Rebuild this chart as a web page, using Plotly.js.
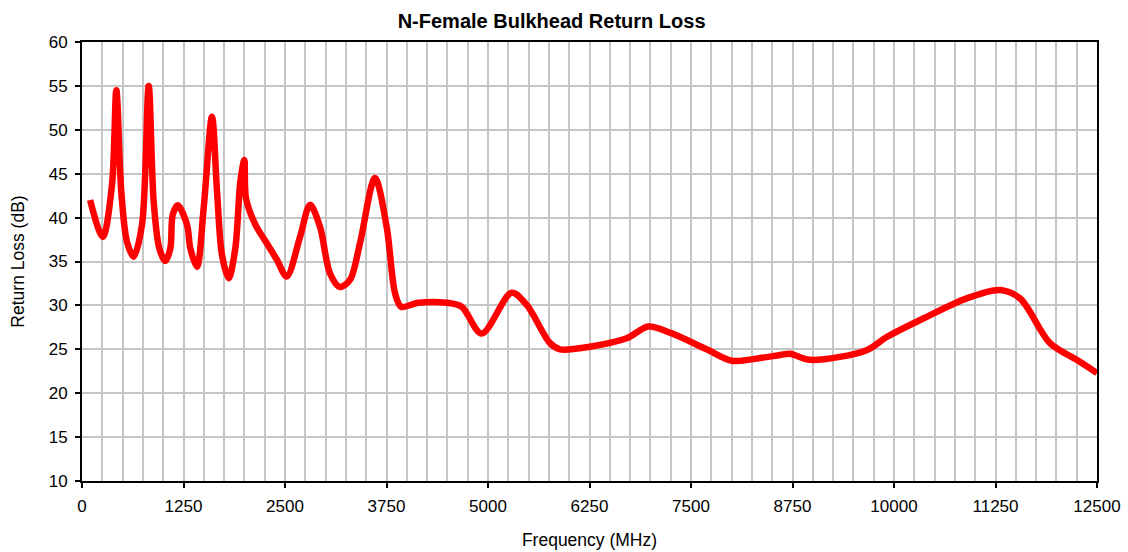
<!DOCTYPE html>
<html>
<head>
<meta charset="utf-8">
<script src="https://cdn.plot.ly/plotly-3.0.1.min.js"></script>
<style>html,body{margin:0;padding:0;background:#fff;}#chart{width:1128px;height:552px;}</style>
</head>
<body>
<div id="chart"></div>
<script>
const frequencyMHz = [100, 255, 369, 423, 484, 554, 636, 739, 821, 883, 952, 1026, 1088, 1117, 1178, 1293, 1334, 1416, 1498, 1601, 1663, 1724, 1806, 1888, 1950, 1999, 2020, 2135, 2274, 2400, 2521, 2685, 2808, 2931, 3054, 3177, 3300, 3424, 3608, 3752, 3855, 3930, 4142, 4491, 4676, 4922, 5292, 5477, 5764, 5887, 6256, 6707, 6974, 7241, 7693, 8001, 8350, 8596, 8719, 8966, 9663, 9910, 10403, 10895, 11305, 11552, 11921, 12250, 12500];
const returnLossDb = [42.0, 37.8, 43.7, 54.5, 42.95, 37.25, 35.55, 39.2, 55.0, 41.8, 36.5, 35.05, 36.5, 40.3, 41.4, 39.2, 36.5, 34.4, 41.05, 51.5, 42.95, 35.75, 33.1, 36.5, 44.1, 46.55, 42.2, 39.2, 37.1, 35.2, 33.3, 37.8, 41.45, 38.95, 33.65, 32.1, 32.9, 37.1, 44.5, 38.95, 31.4, 29.85, 30.3, 30.3, 29.85, 26.8, 31.45, 30.05, 25.7, 25.0, 25.3, 26.25, 27.6, 26.9, 25.0, 23.7, 24.0, 24.35, 24.5, 23.8, 24.9, 26.4, 28.7, 30.8, 31.75, 30.8, 25.7, 23.8, 22.3];
const titleText = "N-Female Bulkhead Return Loss";
const xTitle = "Frequency (MHz)";
const yTitle = "Return Loss (dB)";

const font = "Liberation Sans, Arial, sans-serif";
const grid = "#c6c6c6";
const trace = {
  x: frequencyMHz, y: returnLossDb, type: "scatter", mode: "lines",
  line: {color: "#ff0000", width: 6.5, shape: "spline", smoothing: 0.9},
  hoverinfo: "skip"
};
const layout = {
  width: 1128, height: 552,
  margin: {l: 82, r: 31, t: 42, b: 71},
  paper_bgcolor: "#fff", plot_bgcolor: "#fff",
  showlegend: false,
  font: {family: font, color: "#000", size: 17},
  title: {text: "<b>" + titleText + "</b>", font: {family: font, size: 20, color: "#000"},
          x: 0.489, xref: "container", xanchor: "center", y: 1 - 21 / 552, yref: "container", yanchor: "middle"},
  xaxis: {
    range: [0, 12500], tickmode: "linear", tick0: 0, dtick: 1250, tickformat: "d",
    ticks: "outside", ticklen: 5, tickwidth: 2, tickcolor: "#000", ticklabelstandoff: 4,
    showline: true, linecolor: "#000", linewidth: 2, mirror: true,
    showgrid: true, gridcolor: grid, gridwidth: 2,
    minor: {tickmode: "linear", tick0: 0, dtick: 250, showgrid: true, gridcolor: grid, gridwidth: 2, ticks: ""},
    zeroline: false, tickfont: {size: 17},
    title: {text: xTitle, font: {size: 17.5}, standoff: 18}
  },
  yaxis: {
    range: [10, 60], tickmode: "linear", tick0: 10, dtick: 5,
    ticks: "outside", ticklen: 5, tickwidth: 2, tickcolor: "#000", ticklabelstandoff: 4,
    showline: true, linecolor: "#000", linewidth: 2, mirror: true,
    showgrid: true, gridcolor: grid, gridwidth: 2,
    zeroline: false, tickfont: {size: 17},
    title: {text: yTitle, font: {size: 17.5}, standoff: 20}
  }
};
Plotly.newPlot("chart", [trace], layout, {staticPlot: true, displayModeBar: false});
</script>
</body>
</html>
